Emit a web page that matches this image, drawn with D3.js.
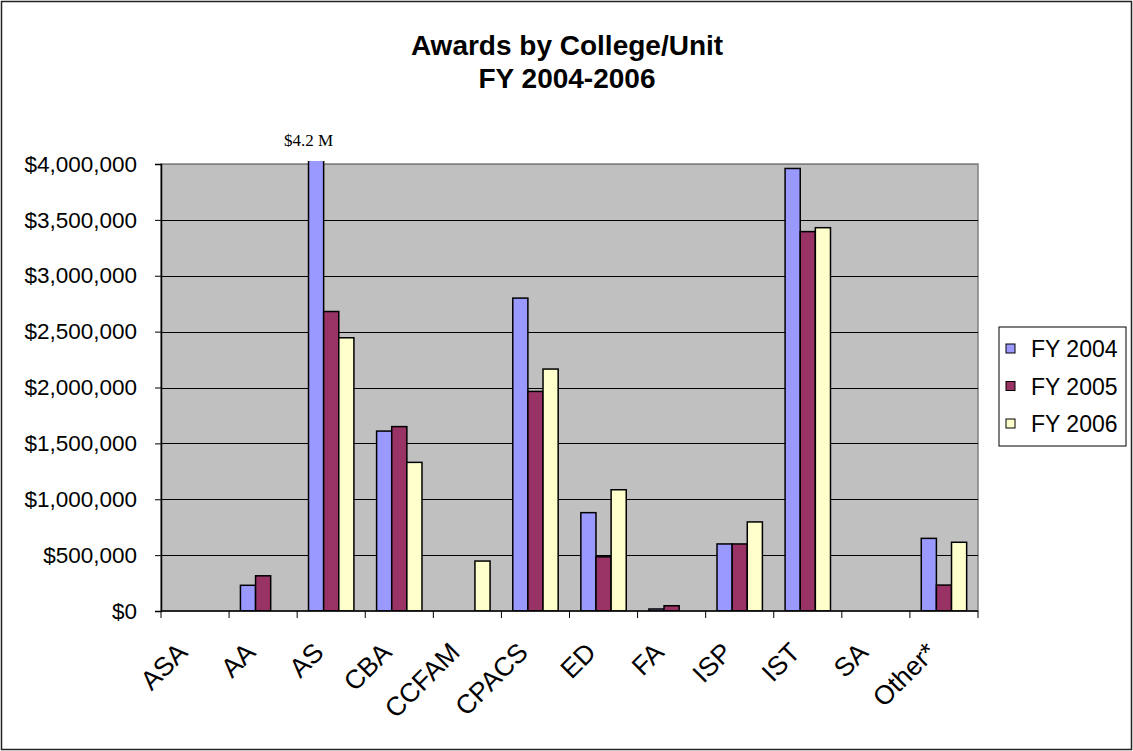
<!DOCTYPE html>
<html>
<head>
<meta charset="utf-8">
<script src="https://cdn.jsdelivr.net/npm/d3@7"></script>
<style>
  html, body { margin: 0; padding: 0; background: #fff; }
  svg { display: block; }
</style>
</head>
<body>
<svg id="chart" width="1133" height="751"></svg>
<script>
const categories = ["ASA", "AA", "AS", "CBA", "CCFAM", "CPACS", "ED", "FA", "ISP", "IST", "SA", "Other*"];
const seriesNames = ["FY 2004", "FY 2005", "FY 2006"];
const fy2004 = [0, 230000, 4200000, 1610000, 0, 2800000, 880000, 18000, 600000, 3960000, 0, 650000];
const fy2005 = [0, 315000, 2680000, 1650000, 0, 1965000, 485000, 47000, 600000, 3395000, 0, 232000];
const fy2006 = [0, 0, 2445000, 1330000, 447000, 2165000, 1085000, 0, 797000, 3430000, 0, 615000];
const yTickValues = [0, 500000, 1000000, 1500000, 2000000, 2500000, 3000000, 3500000, 4000000];
const titleLines = ["Awards by College/Unit", "FY 2004-2006"];
const overflowLabel = "$4.2 M";
const colors = ["#9999FF", "#993366", "#FFFFCC"];

const seriesValues = [fy2004, fy2005, fy2006];
const rows = categories.map((c, i) => ({
  cat: c,
  vals: seriesNames.map((s, j) => ({ series: s, idx: j, value: seriesValues[j][i] }))
}));

const svg = d3.select("#chart");
const W = 1133, H = 751;
const plot = { left: 161, right: 978, top: 164, bottom: 611 };
const sans = "Arial, 'Liberation Sans', sans-serif";

// outer border
svg.append("rect").attr("x", 1.5).attr("y", 1.5).attr("width", W - 3).attr("height", H - 3)
  .attr("fill", "#fff").attr("stroke", "#222").attr("stroke-width", 1.5);

const x0 = d3.scaleBand().domain(categories).range([plot.left, plot.right]).padding(0);
const barW = x0.bandwidth() / 4.5;
const x1 = d3.scaleBand().domain(seriesNames).range([barW * 0.75, barW * 3.75]).padding(0);
const y = d3.scaleLinear().domain([0, 4000000]).range([plot.bottom, plot.top]);
const color = d3.scaleOrdinal().domain(seriesNames).range(colors);

// plot background
svg.append("rect").attr("x", plot.left).attr("y", plot.top)
  .attr("width", plot.right - plot.left).attr("height", plot.bottom - plot.top)
  .attr("fill", "#C0C0C0").attr("stroke", "#808080").attr("stroke-width", 1.5);

// gridlines
svg.append("g").selectAll("line").data(yTickValues.slice(1)).join("line")
  .attr("x1", plot.left).attr("x2", plot.right)
  .attr("y1", d => Math.round(y(d)) + 0.5).attr("y2", d => Math.round(y(d)) + 0.5)
  .attr("stroke", d => d === 4000000 ? "#808080" : "#000").attr("stroke-width", 1);

// clip
svg.append("defs").append("clipPath").attr("id", "clip")
  .append("rect").attr("x", plot.left).attr("y", plot.top - 3)
  .attr("width", plot.right - plot.left).attr("height", plot.bottom - plot.top + 3);

// bars
const groups = svg.append("g").attr("clip-path", "url(#clip)")
  .selectAll("g").data(rows).join("g")
  .attr("transform", d => `translate(${x0(d.cat)},0)`);
groups.selectAll("rect").data(d => d.vals.filter(v => v.value > 0)).join("rect")
  .attr("x", d => x1(d.series))
  .attr("y", d => y(d.value))
  .attr("width", x1.bandwidth())
  .attr("height", d => y(0) - y(d.value))
  .attr("fill", d => color(d.series))
  .attr("stroke", "#000").attr("stroke-width", 1.5);

// y axis
const yAxis = d3.axisLeft(y).tickValues(yTickValues).tickSize(6).tickPadding(18)
  .tickFormat(d => "$" + d3.format(",")(d));
const gy = svg.append("g").attr("transform", `translate(${plot.left},0)`).call(yAxis);
gy.select(".domain").attr("stroke", "#000").attr("stroke-width", 1.5);
gy.selectAll(".tick line").attr("stroke", "#000");
gy.selectAll("text").attr("font-family", sans)
  .attr("font-size", 22.5).attr("fill", "#000");

// x axis: ticks at category boundaries
const gx = svg.append("g").attr("transform", `translate(0,${plot.bottom})`);
gx.append("line").attr("x1", plot.left).attr("x2", plot.right).attr("y1", 0).attr("y2", 0)
  .attr("stroke", "#000").attr("stroke-width", 1.5);
const boundaries = categories.map(c => x0(c)).concat([x0(categories[categories.length - 1]) + x0.bandwidth()]);
gx.selectAll("line.tk").data(boundaries).join("line").attr("class", "tk")
  .attr("x1", d => d).attr("x2", d => d).attr("y1", 0).attr("y2", 7)
  .attr("stroke", "#000");
gx.selectAll("text").data(categories).join("text")
  .attr("transform", d => `translate(${x0(d) + x0.bandwidth() / 2 - 6},${43}) rotate(-45)`)
  .attr("text-anchor", "end")
  .attr("font-family", sans)
  .attr("font-size", 26.5).attr("fill", "#000")
  .text(d => d);

// overflow label
const asBarX = x0("AS") + x1("FY 2004");
svg.append("text").attr("x", asBarX).attr("y", 146)
  .attr("text-anchor", "middle")
  .attr("font-family", "'Liberation Serif', 'Times New Roman', serif")
  .attr("font-size", 17).attr("fill", "#000").text(overflowLabel);

// title
svg.append("text").attr("x", 567).attr("y", 55)
  .attr("text-anchor", "middle")
  .attr("font-family", sans)
  .attr("font-weight", "bold").attr("font-size", 28).attr("fill", "#000")
  .selectAll("tspan").data(titleLines).join("tspan")
  .attr("x", 567).attr("dy", (d, i) => i === 0 ? 0 : 33).text(d => d);

// legend
const legend = svg.append("g");
legend.append("rect").attr("x", 999).attr("y", 327).attr("width", 127).attr("height", 119)
  .attr("fill", "#fff").attr("stroke", "#000").attr("stroke-width", 1);
const li = legend.selectAll("g").data(seriesNames).join("g")
  .attr("transform", (d, i) => `translate(1006,${349 + i * 37.5})`);
li.append("rect").attr("x", 0).attr("y", -5).attr("width", 9).attr("height", 9)
  .attr("fill", d => color(d)).attr("stroke", "#000").attr("stroke-width", 1);
li.append("text").attr("x", 25).attr("y", 8)
  .attr("font-family", sans)
  .attr("font-size", 23).attr("fill", "#000").text(d => d);
</script>
</body>
</html>
